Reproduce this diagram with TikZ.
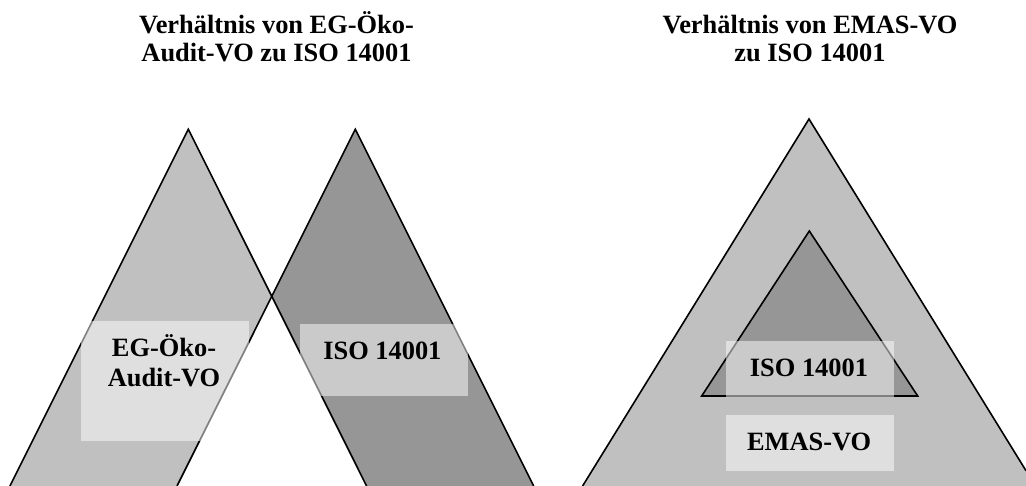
\documentclass[tikz,border=0pt]{standalone}
\usepackage{fontspec}
\setmainfont{Liberation Serif}
\begin{document}
\begin{tikzpicture}[x=1pt,y=-1pt,
  lightfill/.style={fill={rgb,255:red,192;green,192;blue,192}},
  darkfill/.style={fill={rgb,255:red,150;green,150;blue,150}},
  edge/.style={draw=black,line width=1.6pt,line join=miter},
  labelbox/.style={fill=white,fill opacity=0.5,draw=none,inner sep=0pt,minimum width=168pt},
  txt/.style={font=\fontsize{26.4}{30}\selectfont\bfseries,anchor=base,inner sep=0pt}]
\useasboundingbox (0,0) rectangle (1026,486);
% left diagram coordinates
\coordinate (a1) at (188.3,129.3);
\coordinate (a2) at (355.3,129.3);
\coordinate (x) at (271.8,296.3);
\coordinate (l1) at (9.9,486);
\coordinate (r1) at (366.6,486);
\coordinate (l2) at (177,486);
\coordinate (r2) at (533.7,486);
\fill[lightfill] (a1) -- (x) -- (l2) -- (l1) -- cycle;
\fill[darkfill] (a2) -- (r2) -- (r1) -- (x) -- cycle;
\draw[edge] (l1) -- (a1) -- (r1);
\draw[edge] (l2) -- (a2) -- (r2);
% right diagram coordinates
\coordinate (oa) at (809,119);
\coordinate (ol) at (582.6,486);
\coordinate (or) at (1026,470.7);
\coordinate (oc) at (1026,486);
\fill[lightfill] (oa) -- (or) -- (oc) -- (ol) -- cycle;
\draw[edge] (ol) -- (oa) -- (or);
\coordinate (ia) at (809.3,231);
\coordinate (il) at (701.7,396);
\coordinate (ir) at (917.7,396);
\filldraw[darkfill,edge] (ia) -- (ir) -- (il) -- cycle;
% label boxes
\node[labelbox,minimum height=120pt] (b1) at (165,381) {};
\node[labelbox,minimum height=72pt] (b2) at (384,360) {};
\node[labelbox,minimum height=55.7pt] (b3) at (810,368.8) {};
\node[labelbox,minimum height=55.7pt] (b4) at (810,442.8) {};
% texts
\node[txt] (t1a) at (276.5,33.3) {Verhältnis von EG-Öko-};
\node[txt] (t1b) at (276.5,62) {Audit-VO zu ISO 14001};
\node[txt] (t2a) at (810,33.3) {Verhältnis von EMAS-VO};
\node[txt] (t2b) at (810,62) {zu ISO 14001};
\node[txt] (l1a) at (164,356.7) {EG-Öko-};
\node[txt] (l1b) at (164,386.7) {Audit-VO};
\node[txt] (l2a) at (382.4,359.3) {ISO 14001};
\node[txt] (l3a) at (809,376.7) {ISO 14001};
\node[txt] (l4a) at (809.2,450.7) {EMAS-VO};
\end{tikzpicture}
\end{document}
